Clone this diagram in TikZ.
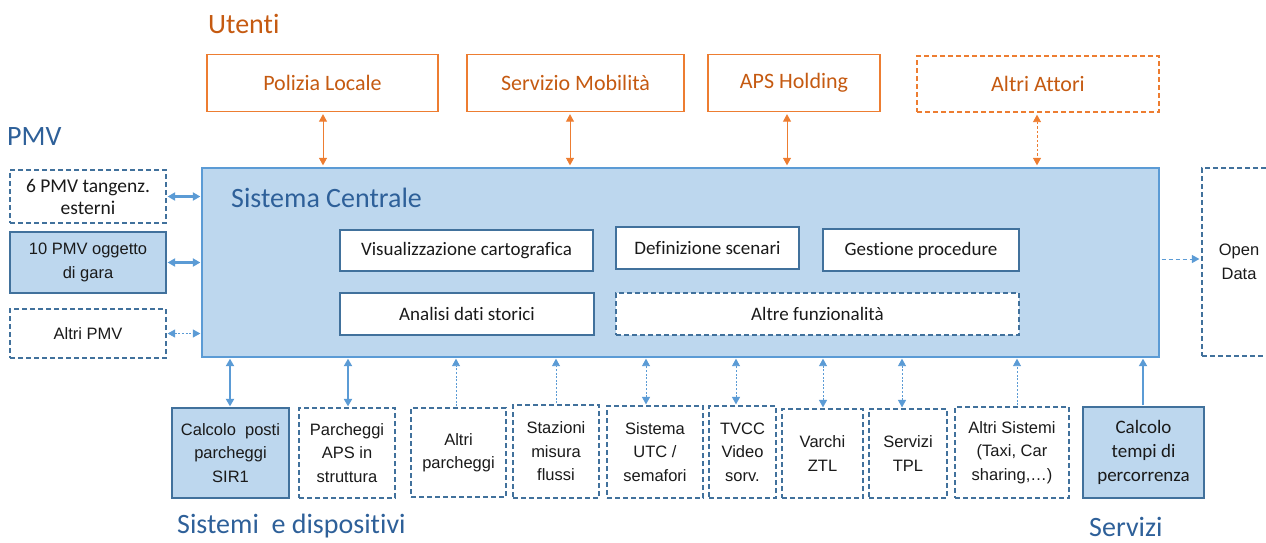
\documentclass[tikz,border=0pt]{standalone}
\usepackage{fontspec}
\setmainfont{Carlito}[Ligatures=NoCommon]
\newfontfamily\arialf{Liberation Sans}
\usetikzlibrary{arrows.meta,calc}
\definecolor{orln}{HTML}{ED7D31}
\definecolor{ortx}{HTML}{C55A11}
\definecolor{scfill}{HTML}{BDD7EE}
\definecolor{scborder}{HTML}{5B9BD5}
\definecolor{bxborder}{HTML}{41719C}
\definecolor{arrblue}{HTML}{5B9BD5}
\definecolor{lblblue}{HTML}{2E6099}
\definecolor{txt}{HTML}{1A1A1A}
\tikzset{
  ubox/.style={draw=orln, line width=1.3pt, text=ortx, inner sep=0pt, font=\fontsize{22}{26}\selectfont},
  fnbox/.style={draw=bxborder, fill=white, line width=1.1pt, text=txt, inner sep=0pt, font=\fontsize{19}{22}\selectfont},
  dbox/.style={draw=bxborder, fill=white, line width=1.2pt, dash pattern=on 5pt off 3pt, text=txt, inner sep=0pt, align=center},
  sbox/.style={draw=bxborder, fill=scfill, line width=1.2pt, text=txt, inner sep=0pt, align=center},
  arfont/.style={font=\arialf\fontsize{16.5}{23.5}\selectfont},
  cafont/.style={font=\fontsize{19.5}{23}\selectfont},
  lbl/.style={text=lblblue, inner sep=0pt, anchor=west, font=\fontsize{28}{32}\selectfont},
  thk/.style={draw=arrblue, line width=2.2pt, shorten >=1pt, shorten <=1pt},
  dotarr/.style={draw=arrblue, line width=0.9pt, dash pattern=on 2pt off 1.6pt, shorten >=1pt, shorten <=1pt},
  orarr/.style={draw=orln, line width=0.9pt, shorten >=2pt, shorten <=2pt},
  >={Triangle[length=7.5pt,width=8pt]}
}
\begin{document}
\begin{tikzpicture}[x=1pt,y=-1pt]
\useasboundingbox (0,0) rectangle (1266,542);
\clip (0,0) rectangle (1266,542);

% labels
\node[lbl, text=ortx] (utenti) at (208,24) {Utenti};
\node[lbl] (pmvlbl) at (7,137) {PMV};
\node[lbl] (sislbl) at (177,526) {Sistemi\ \ e dispositivi};
\node[lbl] (servlbl) at (1089,527) {Servizi};

% users
\node[ubox, minimum width=231pt, minimum height=57pt] (pol) at (322.5,83) {Polizia Locale};
\node[ubox, minimum width=217pt, minimum height=57pt] (ser) at (575.5,83) {Servizio Mobilità};
\node[ubox, minimum width=172pt, minimum height=57pt] (aps) at (794,83) {APS Holding};
\node[ubox, dash pattern=on 5pt off 3pt, minimum width=242pt, minimum height=56pt] (alt) at (1038,84) {Altri Attori};

% central system
\node[draw=scborder, fill=scfill, line width=1.3pt, minimum width=957pt, minimum height=189pt, inner sep=0pt] (sc) at (680.5,262.5) {};
\node[text=lblblue, anchor=west, inner sep=0pt, font=\fontsize{28}{32}\selectfont] (sctitle) at (231,198) {Sistema Centrale};

\node[fnbox, minimum width=253pt, minimum height=41pt] (vis) at (466.5,250.5) {Visualizzazione cartografica};
\node[fnbox, minimum width=183pt, minimum height=42pt] (def) at (707.5,248) {Definizione scenari};
\node[fnbox, minimum width=196pt, minimum height=42pt] (ges) at (921,250) {Gestione procedure};
\node[fnbox, minimum width=254pt, minimum height=42pt] (ana) at (467,314) {Analisi dati storici};
\node[fnbox, dash pattern=on 5pt off 3pt, minimum width=403pt, minimum height=42pt] (altf) at (817.5,314) {Altre funzionalità};

% PMV
\node[dbox, cafont, minimum width=156pt, minimum height=53pt] (p6) at (88,196.5) {6 PMV tangenz.\\[-1pt]esterni};
\node[sbox, arfont, minimum width=156pt, minimum height=61pt] (p10) at (88,262.5) {10 PMV oggetto\\di gara};
\node[dbox, arfont, minimum width=156pt, minimum height=49pt] (pa) at (88,333.5) {Altri PMV};

% bottom systems
\node[sbox, arfont, minimum width=117pt, minimum height=90pt] (b1) at (230.5,453) {Calcolo\ \ posti\\parcheggi\\SIR1};
\node[dbox, arfont, minimum width=96pt, minimum height=90pt] (b2) at (347,453) {Parcheggi\\APS in\\struttura};
\node[dbox, arfont, minimum width=95pt, minimum height=89pt] (b3) at (458.5,452.5) {Altri\\parcheggi};
\node[dbox, arfont, minimum width=86pt, minimum height=93pt] (b4) at (556,451.5) {Stazioni\\misura\\flussi};
\node[dbox, arfont, minimum width=96pt, minimum height=92pt] (b5) at (655,452) {Sistema\\UTC /\\semafori};
\node[dbox, arfont, minimum width=67pt, minimum height=92pt] (b6) at (742.5,452) {TVCC\\Video\\sorv.};
\node[dbox, arfont, minimum width=81pt, minimum height=89pt] (b7) at (822.5,453.5) {Varchi\\ZTL};
\node[dbox, arfont, minimum width=78pt, minimum height=89pt] (b8) at (908,453.5) {Servizi\\TPL};
\node[dbox, arfont, minimum width=114pt, minimum height=91pt] (b9) at (1012,452.5) {Altri Sistemi\\(Taxi, Car\\sharing,…)};
\node[sbox, font=\fontsize{19}{24}\selectfont, minimum width=121pt, minimum height=91pt] (b10) at (1143.5,452.5) {Calcolo\\tempi di\\percorrenza};

% open data
\node[dbox, arfont, minimum width=74pt, minimum height=188pt] (od) at (1239,262) {Open\\Data};

% user arrows
\coordinate (u1) at ($(pol.south)+(0.5,0)$);
\coordinate (u2) at ($(ser.south)+(-5.5,0)$);
\coordinate (u3) at ($(aps.south)+(-7,0)$);
\coordinate (u4) at ($(alt.south)+(-1,0)$);
\draw[orarr,<->] (u1) -- (u1 |- sc.north);
\draw[orarr,<->] (u2) -- (u2 |- sc.north);
\draw[orarr,<->] (u3) -- (u3 |- sc.north);
\draw[orarr,<->, dash pattern=on 2.5pt off 2pt] (u4) -- (u4 |- sc.north);

% PMV arrows
\draw[thk,<->] (p6.east) -- (p6.east -| sc.west);
\draw[thk,<->] (p10.east) -- (p10.east -| sc.west);
\draw[dotarr,<->] (pa.east) -- (pa.east -| sc.west);

% bottom arrows
\coordinate (a1) at ($(b1.north)+(-0.5,0)$);
\coordinate (a2) at ($(b2.north)+(1,0)$);
\coordinate (a3) at ($(b3.north)+(-2.5,0)$);
\coordinate (a4) at ($(b4.north)+(0,0)$);
\coordinate (a5) at ($(b5.north)+(-9,0)$);
\coordinate (a6) at ($(b6.north)+(-6.5,0)$);
\coordinate (a7) at ($(b7.north)+(0.5,0)$);
\coordinate (a8) at ($(b8.north)+(-6,0)$);
\coordinate (a9) at ($(b9.north)+(5,0)$);
\coordinate (a10) at ($(b10.north)+(-0.5,0)$);
\draw[thk,<->] (a1) -- (a1 |- sc.south);
\draw[thk,<->] (a2) -- (a2 |- sc.south);
\draw[dotarr,->] (a3) -- (a3 |- sc.south);
\draw[dotarr,->] (a4) -- (a4 |- sc.south);
\draw[dotarr,<->] (a5) -- (a5 |- sc.south);
\draw[dotarr,<->] (a6) -- (a6 |- sc.south);
\draw[dotarr,<->] (a7) -- (a7 |- sc.south);
\draw[dotarr,<->] (a8) -- (a8 |- sc.south);
\draw[dotarr,->] (a9) -- (a9 |- sc.south);
\draw[thk,->, line width=2.6pt] (a10) -- (a10 |- sc.south);

% open data arrow
\coordinate (o1) at ($(sc.east)+(0,-3.5)$);
\draw[draw=arrblue, line width=1pt, dash pattern=on 4pt off 3pt, shorten >=2pt, shorten <=2pt, ->] (o1) -- (o1 -| od.west);
\end{tikzpicture}
\end{document}
